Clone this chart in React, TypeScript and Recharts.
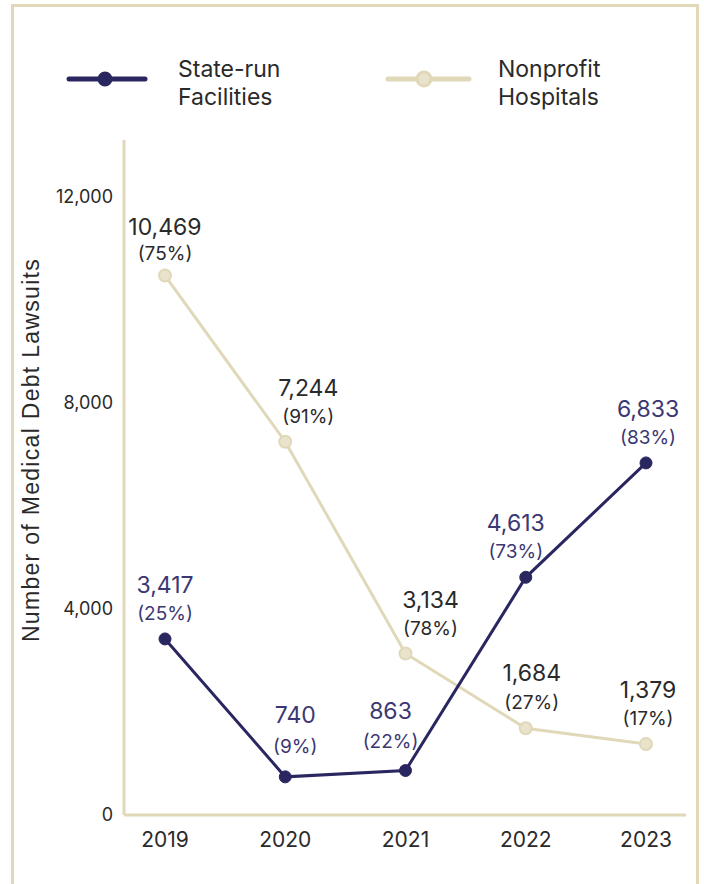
import React from 'react';
import { LineChart, Line, XAxis, YAxis, LabelList } from 'recharts';

const years = ['2019', '2020', '2021', '2022', '2023'];
const stateRun = [3417, 740, 863, 4613, 6833];
const stateShare = [25, 9, 22, 73, 83];
const nonprofit = [10469, 7244, 3134, 1684, 1379];
const nonprofitShare = [75, 91, 78, 27, 17];
const yTicks = [0, 4000, 8000, 12000];

// label nudges (px), per point
const stateDx = [0, 10, -15, -10, 2];
const stateLift = [0, 8, 6, 0, 0];
const nonprofitDx = [0, 23, 25, 6, 2];
const nonprofitLift = [-5, 0, 0, 1, 0];

const NAVY = '#2a2660';
const NAVY_TEXT = '#3b3773';
const BEIGE = '#e0d8b9';
const BEIGE_FILL = '#e9e3cb';
const TEXT = '#2a2a2a';
const FONT = 'Inter, "Noto Sans", sans-serif';

const data = years.map((year, i) => ({
  year,
  stateRun: stateRun[i],
  stateShare: stateShare[i],
  nonprofit: nonprofit[i],
  nonprofitShare: nonprofitShare[i],
}));

const fmt = (v: number) => v.toLocaleString('en-US');

function makeLabel(shares: number[], dxs: number[], lifts: number[], color: string) {
  return (props: any) => {
    const { x, y, value, index } = props;
    const cx = x + dxs[index];
    const lift = lifts[index];
    return (
      <g>
        <text x={cx} y={y - 54 - lift + 8} textAnchor="middle" fontSize={23} fill={color} fontFamily={FONT}>
          {fmt(value)}
        </text>
        <text x={cx} y={y - 26 - lift * 0.6 + 7} textAnchor="middle" fontSize={19} fill={color} fontFamily={FONT}>
          ({shares[index]}%)
        </text>
      </g>
    );
  };
}

function LegendBox() {
  const item = (label1: string, label2: string, lineX: number, lineLen: number, textX: number, stroke: string, fill: string, r: number) => (
    <div style={{ position: 'absolute', left: lineX, top: 0, width: 400 }}>
      <svg width={100} height={60} style={{ position: 'absolute', left: 0, top: 0 }}>
        <line x1={4} y1={30} x2={lineLen} y2={30} stroke={stroke} strokeWidth={5} strokeLinecap="round" />
        <circle cx={40} cy={30} r={r} fill={fill} stroke={stroke} strokeWidth={3} />
      </svg>
      <div
        style={{
          position: 'absolute',
          left: textX - lineX,
          top: 6,
          fontFamily: FONT,
          fontSize: 23,
          lineHeight: '28px',
          color: TEXT,
        }}
      >
        {label1}
        <br />
        {label2}
      </div>
    </div>
  );
  return (
    <div style={{ position: 'absolute', left: 0, top: 49, width: 704, height: 60 }}>
      {item('State-run', 'Facilities', 65, 80, 178, NAVY, NAVY, 6)}
      {item('Nonprofit', 'Hospitals', 384, 85, 498, BEIGE, BEIGE_FILL, 7)}
    </div>
  );
}

export default function App() {
  return (
    <div style={{ position: 'absolute', left: 0, top: 0, width: 704, height: 884, overflow: 'hidden', background: '#fff' }}>
      <div
        style={{
          position: 'absolute',
          left: 11,
          top: 4,
          width: 682,
          height: 920,
          border: `3px solid ${BEIGE}`,
        }}
      />
      <LegendBox />
      <LineChart
        width={704}
        height={884}
        data={data}
        margin={{ top: 140, right: 18, left: 10, bottom: 29 }}
        style={{ position: 'absolute', left: 0, top: 0 }}
      >
        <XAxis
          dataKey="year"
          padding={{ left: 41, right: 40 }}
          height={40}
          axisLine={{ stroke: BEIGE, strokeWidth: 3 }}
          tickLine={false}
          tickSize={6}
          tickMargin={11}
          tick={{ fill: TEXT, fontSize: 21, fontFamily: FONT }}
        />
        <YAxis
          width={114}
          domain={[0, 13100]}
          ticks={yTicks}
          tickFormatter={fmt}
          axisLine={{ stroke: BEIGE, strokeWidth: 3 }}
          tickLine={false}
          tickSize={6}
          tickMargin={5}
          tick={{ fill: TEXT, fontSize: 18, fontFamily: FONT }}
          label={{
            content: () => (
              <text
                x={33}
                y={450}
                transform="rotate(-90 33 450)"
                textAnchor="middle"
                dominantBaseline="middle"
                fontSize={23}
                letterSpacing={1.3}
                fill={TEXT}
                fontFamily='"Liberation Sans", Arial, sans-serif'
              >
                Number of Medical Debt Lawsuits
              </text>
            ),
          }}
        />
        <Line
          dataKey="nonprofit"
          stroke={BEIGE}
          strokeWidth={3}
          dot={{ r: 6, fill: BEIGE_FILL, stroke: BEIGE, strokeWidth: 2 }}
          isAnimationActive={false}
        >
          <LabelList dataKey="nonprofit" content={makeLabel(nonprofitShare, nonprofitDx, nonprofitLift, TEXT)} />
        </Line>
        <Line
          dataKey="stateRun"
          stroke={NAVY}
          strokeWidth={3}
          dot={{ r: 6, fill: NAVY, stroke: NAVY, strokeWidth: 1 }}
          isAnimationActive={false}
        >
          <LabelList dataKey="stateRun" content={makeLabel(stateShare, stateDx, stateLift, NAVY_TEXT)} />
        </Line>
      </LineChart>
    </div>
  );
}
